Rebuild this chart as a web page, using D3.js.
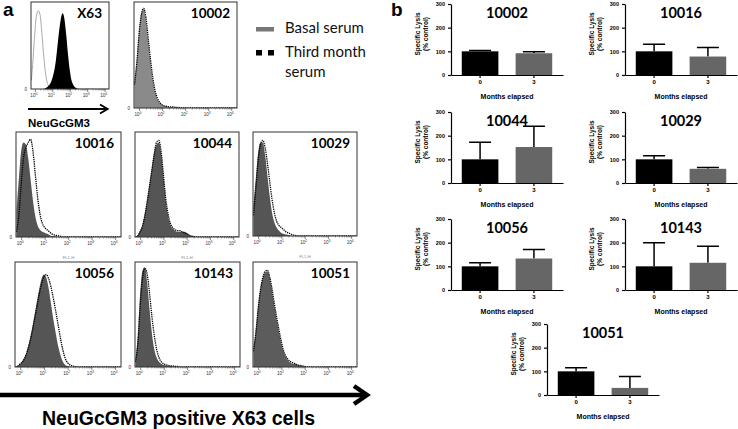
<!DOCTYPE html>
<html>
<head>
<meta charset="utf-8">
<script src="https://cdn.jsdelivr.net/npm/d3@7"></script>
<style>
  body { margin: 0; background: #fff; }
  svg { display: block; }
  text { font-family: "Liberation Sans", Arial, sans-serif; }
  .cal { font-family: Lato, "Open Sans", sans-serif; }
</style>
</head>
<body>
<div id="chart"><svg width="738" height="429"></svg></div>
<script>
// FL1-H histogram bins (log10 of channel), heights in % of the panel
const logBins = [-0.2, -0.1, 0, 0.1, 0.2, 0.3, 0.4, 0.5, 0.6, 0.7, 0.8, 0.9, 1.0, 1.1, 1.2, 1.3, 1.4, 1.5, 1.6, 1.7, 1.8, 1.9, 2.0, 2.1, 2.2, 2.3, 2.4, 2.5, 2.6];
const decades = [0, 1, 2, 3, 4];

const x63Control = [10, 35, 65, 85, 90, 85, 65, 40, 20, 8, 3, 0, 0, 0, 0, 0, 0, 0, 0, 0, 0, 0, 0, 0, 0, 0, 0, 0, 0];
const x63Stained = [0, 0, 0, 0, 0, 0, 0, 0, 1, 2, 4, 7, 12, 20, 32, 50, 68, 82, 87, 80, 62, 40, 22, 10, 5, 2, 1, 0, 0];

const basal10002 = [25, 45, 72, 90, 93, 82, 62, 42, 26, 15, 8, 5, 3, 2, 1.5, 1, 1, 0.5, 0.5, 0, 0, 0, 0, 0, 0, 0, 0, 0, 0];
const third10002 = [22, 42, 70, 88, 94, 85, 65, 45, 28, 16, 9, 5, 3, 2, 1.5, 1, 1, 1, 0.5, 0.5, 0, 0, 0, 0, 0, 0, 0, 0, 0];
const basal10016 = [25, 55, 82, 90, 88, 75, 55, 35, 20, 11, 7, 5, 4, 3, 2, 1, 1, 0.5, 0, 0, 0, 0, 0, 0, 0, 0, 0, 0, 0];
const third10016 = [5, 20, 50, 75, 85, 90, 93, 82, 60, 38, 22, 13, 9, 7, 5, 3, 2, 1.5, 1, 0.5, 0, 0, 0, 0, 0, 0, 0, 0, 0];
const basal10044 = [0, 2, 6, 12, 22, 35, 50, 65, 80, 88, 90, 80, 58, 35, 20, 12, 8, 6, 5, 5, 5, 5, 4, 2, 1, 0.5, 0, 0, 0];
const third10044 = [0, 1, 5, 10, 20, 33, 48, 63, 78, 90, 92, 82, 60, 37, 22, 13, 9, 7, 6, 6, 5, 4, 3, 2, 1, 0.5, 0, 0, 0];
const basal10029 = [30, 55, 80, 90, 90, 78, 58, 38, 22, 13, 8, 5, 3, 2, 1.5, 1, 0.5, 0, 0, 0, 0, 0, 0, 0, 0, 0, 0, 0, 0];
const third10029 = [20, 45, 72, 88, 92, 85, 70, 52, 35, 22, 14, 10, 8, 6, 4, 3, 2, 1, 0.5, 0, 0, 0, 0, 0, 0, 0, 0, 0, 0];
const basal10056 = [0, 1, 3, 6, 10, 17, 26, 37, 49, 62, 74, 84, 88, 85, 75, 60, 45, 32, 20, 11, 5, 2, 1, 0.5, 0, 0, 0, 0, 0];
const third10056 = [0, 1, 3, 5, 9, 15, 23, 33, 45, 57, 69, 79, 86, 88, 84, 76, 65, 53, 40, 27, 16, 8, 4, 2, 1, 0.5, 0, 0, 0];
const basal10143 = [8, 30, 70, 92, 95, 80, 55, 32, 17, 9, 5, 3, 2, 1.5, 1, 1, 0.5, 0.5, 0, 0, 0, 0, 0, 0, 0, 0, 0, 0, 0];
const third10143 = [5, 22, 58, 85, 94, 88, 70, 48, 30, 17, 9, 5, 3, 2, 1.5, 1, 1, 0.5, 0.5, 0, 0, 0, 0, 0, 0, 0, 0, 0, 0];
const basal10051 = [18, 35, 58, 75, 85, 90, 91, 85, 72, 58, 45, 33, 22, 14, 9, 6, 4, 3, 3, 2, 1.5, 1, 0.5, 0, 0, 0, 0, 0, 0];
const third10051 = [15, 32, 55, 73, 85, 91, 92, 86, 74, 60, 47, 35, 24, 15, 10, 7, 5, 4, 3, 2, 1.5, 1, 0.5, 0, 0, 0, 0, 0, 0];

// specific lysis bar charts (% control)
const patients = ["10002", "10016", "10044", "10029", "10056", "10143", "10051"];
const months = ["0", "3"];
const lysisBasal = [100, 100, 100, 100, 100, 100, 100];
const errBasal = [4, 30, 72, 15, 15, 100, 15];
const lysisThird = [92, 78, 152, 60, 133, 115, 30];
const errThird = [6, 38, 88, 5, 38, 70, 48];
const lysisTicks = [0, 100, 200, 300];

const svg = d3.select("#chart").select("svg");

// ---------- panel a : histograms ----------
const histPanels = [
  { label: "X63", x: 31, y: 2, w: 78, h: 87, control: x63Control, stained: x63Stained },
  { label: "10002", x: 134, y: 2, w: 103, h: 106, basal: basal10002, third: third10002, fill: "#8a8a8a" },
  { label: "10016", x: 16, y: 132, w: 105, h: 105, basal: basal10016, third: third10016, fill: "#555", fl: true },
  { label: "10044", x: 135, y: 132, w: 104, h: 105, basal: basal10044, third: third10044, fill: "#555", fl: true },
  { label: "10029", x: 253, y: 132, w: 104, h: 104, basal: basal10029, third: third10029, fill: "#555", fl: true },
  { label: "10056", x: 15, y: 262, w: 106, h: 105, basal: basal10056, third: third10056, fill: "#555" },
  { label: "10143", x: 135, y: 262, w: 105, h: 105, basal: basal10143, third: third10143, fill: "#555" },
  { label: "10051", x: 253, y: 262, w: 104, h: 105, basal: basal10051, third: third10051, fill: "#5c5c5c" },
];

histPanels.forEach((p, k) => {
  const g = svg.append("g");
  const x = d3.scaleLinear().domain([-0.22, 4.25]).range([p.x, p.x + p.w]);
  const y = d3.scaleLinear().domain([0, 100]).range([p.y + p.h, p.y]);

  g.append("clipPath").attr("id", "clip" + k)
    .append("rect").attr("x", p.x).attr("y", p.y).attr("width", p.w).attr("height", p.h);
  const inner = g.append("g").attr("clip-path", `url(#clip${k})`);

  const pts = (vals) => logBins.map((b, i) => [b, vals[i]]).concat([[4.3, 0]]);
  const area = d3.area().x((d) => x(d[0])).y0(y(0)).y1((d) => y(d[1])).curve(d3.curveMonotoneX);
  const line = d3.line().x((d) => x(d[0])).y((d) => y(d[1])).curve(d3.curveMonotoneX);

  if (p.control) {
    inner.append("path").datum(pts(p.control)).attr("d", line)
      .attr("fill", "none").attr("stroke", "#aaa").attr("stroke-width", 1);
    inner.append("path").datum(pts(p.stained)).attr("d", area).attr("fill", "#000");
  } else {
    inner.append("path").datum(pts(p.basal)).attr("d", area).attr("fill", p.fill);
    inner.append("path").datum(pts(p.third)).attr("d", line)
      .attr("fill", "none").attr("stroke", "#000").attr("stroke-width", 1.3)
      .attr("stroke-dasharray", "1.3,0.9");
  }

  g.append("rect").attr("x", p.x).attr("y", p.y).attr("width", p.w).attr("height", p.h)
    .attr("fill", "none").attr("stroke", "#333").attr("stroke-width", 1);

  // log axis
  const minors = [];
  decades.slice(0, 4).forEach((d) => { for (let m = 2; m < 10; m++) minors.push(d + Math.log10(m)); });
  g.append("g").attr("transform", `translate(0,${p.y + p.h})`)
    .call(d3.axisBottom(x).tickValues(minors).tickSize(1.5).tickFormat(""))
    .call((a) => a.select(".domain").remove())
    .selectAll("line").attr("stroke", "#444").attr("stroke-width", 0.5);
  const major = g.append("g").attr("transform", `translate(0,${p.y + p.h})`)
    .call(d3.axisBottom(x).tickValues(decades).tickSize(3).tickFormat(""));
  major.select(".domain").remove();
  major.selectAll("line").attr("stroke", "#333").attr("stroke-width", 0.6);
  decades.forEach((d) => {
    const t = g.append("text").attr("x", x(d) - 1).attr("y", p.y + p.h + 8)
      .attr("text-anchor", "middle").attr("font-size", 4.6).attr("fill", "#333").text("10");
    t.append("tspan").attr("dy", -2.2).attr("font-size", 3.4).text(d);
  });
  g.append("text").attr("x", p.x - 4).attr("y", p.y + p.h + 1.5).attr("text-anchor", "end")
    .attr("font-size", 4.6).attr("fill", "#333").text("0");
  if (p.fl) {
    g.append("text").attr("x", p.x + p.w / 2).attr("y", p.y + p.h + 22).attr("text-anchor", "middle")
      .attr("font-size", 4.2).attr("fill", "#888").text("FL1-H");
  }

  g.append("text").attr("class", "cal").attr("x", p.x + p.w - 7).attr("y", p.y + 16)
    .attr("text-anchor", "end").attr("font-size", 13.5).attr("font-weight", "bold").text(p.label);
});

svg.append("text").attr("x", 3).attr("y", 16).attr("font-size", 19).attr("font-weight", "bold").text("a");

// X63 arrow + label
svg.append("line").attr("x1", 28).attr("x2", 107).attr("y1", 109).attr("y2", 109)
  .attr("stroke", "#000").attr("stroke-width", 2);
svg.append("path").attr("d", "M100,104.5 L107.5,109 L100,113.5").attr("fill", "none")
  .attr("stroke", "#000").attr("stroke-width", 2);
svg.append("text").attr("x", 28).attr("y", 127).attr("font-size", 11.5).attr("font-weight", "bold").text("NeuGcGM3");

// legend
svg.append("rect").attr("x", 256).attr("y", 27).attr("width", 18).attr("height", 4.5).attr("fill", "#777");
svg.append("rect").attr("x", 256).attr("y", 50).attr("width", 6).attr("height", 5.5).attr("fill", "#000");
svg.append("rect").attr("x", 268).attr("y", 50).attr("width", 6).attr("height", 5.5).attr("fill", "#000");
[["Basal serum", 33], ["Third month", 57], ["serum", 77]].forEach(([t, yy]) => {
  svg.append("text").attr("class", "cal").attr("x", 285).attr("y", yy).attr("font-size", 15).attr("fill", "#111").text(t);
});

// big arrow
svg.append("line").attr("x1", 0).attr("x2", 365).attr("y1", 395).attr("y2", 395)
  .attr("stroke", "#000").attr("stroke-width", 4.5);
svg.append("path").attr("d", "M354,386 L367,395 L354,404").attr("fill", "none")
  .attr("stroke", "#000").attr("stroke-width", 4.5);
svg.append("text").attr("x", 42).attr("y", 425).attr("font-size", 19.5).attr("font-weight", "bold")
  .text("NeuGcGM3 positive X63 cells");

// ---------- panel b : lysis bars ----------
svg.append("text").attr("x", 391).attr("y", 16).attr("font-size", 19).attr("font-weight", "bold").text("b");

const barPos = [
  { x: 451, y0: 75 }, { x: 625, y0: 75 },
  { x: 451, y0: 183 }, { x: 625, y0: 183 },
  { x: 451, y0: 290 }, { x: 625, y0: 290 },
  { x: 547, y0: 395 },
];
const plotW = 112;
const plotH = 71;

patients.forEach((pid, i) => {
  const pos = barPos[i];
  const g = svg.append("g").attr("transform", `translate(${pos.x},${pos.y0})`);
  const xb = d3.scaleBand().domain(months).range([0, plotW]).paddingInner(0.32).paddingOuter(0.2);
  const yb = d3.scaleLinear().domain([0, 300]).range([0, -plotH]);
  const rows = [
    { m: "0", v: lysisBasal[i], e: errBasal[i], c: "#000" },
    { m: "3", v: lysisThird[i], e: errThird[i], c: "#666" },
  ];

  g.selectAll(".err").data(rows).enter().append("path").attr("class", "err")
    .attr("d", (d) => {
      const cx = xb(d.m) + xb.bandwidth() / 2;
      const top = yb(d.v + d.e);
      return `M${cx},${yb(d.v)} V${top} M${cx - 11},${top} H${cx + 11}`;
    })
    .attr("stroke", "#000").attr("stroke-width", 1.5).attr("fill", "none");

  g.selectAll(".bar").data(rows).enter().append("rect").attr("class", "bar")
    .attr("x", (d) => xb(d.m)).attr("width", xb.bandwidth())
    .attr("y", (d) => yb(d.v)).attr("height", (d) => -yb(d.v))
    .attr("fill", (d) => d.c);

  const ya = g.append("g").call(d3.axisLeft(yb).tickValues(lysisTicks).tickSize(3).tickSizeOuter(0));
  ya.selectAll("text").attr("font-size", 5.5).attr("font-weight", "bold")
    .attr("font-family", "Liberation Sans, Arial, sans-serif").attr("dy", "0.35em");
  ya.selectAll("line, path").attr("stroke-width", 1.2);

  const xa = g.append("g").call(d3.axisBottom(xb).tickSize(3).tickSizeOuter(0));
  xa.selectAll("text").attr("font-size", 6).attr("font-weight", "bold")
    .attr("font-family", "Liberation Sans, Arial, sans-serif").attr("y", 5);
  xa.selectAll("line, path").attr("stroke-width", 1.2);

  g.append("text").attr("x", plotW / 2).attr("y", 24).attr("text-anchor", "middle")
    .attr("font-size", 7).attr("font-weight", "bold").text("Months elapsed");

  const lab = g.append("g").attr("transform", `translate(-31,-41) rotate(-90)`);
  lab.append("text").attr("text-anchor", "middle").attr("font-size", 6.5).attr("font-weight", "bold").text("Specific Lysis");
  lab.append("text").attr("y", 8).attr("text-anchor", "middle").attr("font-size", 6.5).attr("font-weight", "bold").text("(% control)");

  g.append("text").attr("class", "cal").attr("x", plotW / 2).attr("y", -plotH + 14).attr("text-anchor", "middle")
    .attr("font-size", 14.5).attr("font-weight", "bold").text(pid);
});
</script>
</body>
</html>
